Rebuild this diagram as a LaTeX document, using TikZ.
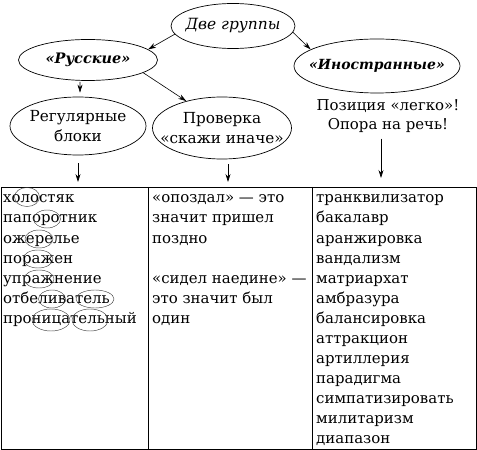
\documentclass[tikz,border=0pt]{standalone}
\usepackage{fontspec}
\setmainfont{DejaVu Serif}
\usetikzlibrary{arrows.meta,shapes.geometric}
\begin{document}
\begin{tikzpicture}[x=1bp,y=-1bp,
  txt/.style={font=\fontsize{15}{20}\selectfont},
  oval/.style={draw, ellipse, line width=0.7pt, inner sep=0pt},
  lbl/.style={font=\fontsize{15.3}{19.5}\selectfont, align=center, inner sep=0pt},
  arr/.style={-{Stealth[length=8pt,width=5pt]}, line width=0.6pt},
  cell/.style={txt, anchor=base west, inner sep=0pt},
  ring/.style={draw, ellipse, line width=0.45pt, inner sep=0pt, black!75},
  grid/.style={line width=0.9pt}
]
\useasboundingbox (0,0) rectangle (477,450);

% ellipses
\node[oval, minimum width=124bp, minimum height=45bp,
  label={[lbl, font=\fontsize{15.5}{20}\selectfont\itshape]center:Две группы}] (dg) at (233,26) {};
\node[oval, minimum width=139bp, minimum height=41bp,
  label={[lbl, font=\fontsize{14.5}{20}\selectfont\bfseries\itshape]center:«Русские»}] (rus) at (88,60) {};
\node[oval, minimum width=166bp, minimum height=54bp,
  label={[lbl, font=\fontsize{14}{20}\selectfont\bfseries\itshape]center:«Иностранные»}] (ino) at (377,66) {};
\node[oval, minimum width=136bp, minimum height=58bp,
  label={[lbl]center:Регулярные\\блоки}] (reg) at (78,126) {};
\node[oval, minimum width=139bp, minimum height=62bp,
  label={[lbl]center:Проверка\\«скажи иначе»}] (chk) at (222,128) {};
\node[lbl, font=\fontsize{15}{19}\selectfont] (pos) at (388,116) {Позиция «легко»!\\Опора на речь!};

% table
\coordinate (tl) at (1,187);
\coordinate (tr) at (476,187);
\coordinate (bl) at (1,449);
\coordinate (br) at (476,449);
\coordinate (d1) at (148,187);
\coordinate (d2) at (312,187);
\draw[grid] (tl) rectangle (br);
\draw[grid] (d1) -- (d1 |- bl);
\draw[grid] (d2) -- (d2 |- bl);

% connectors
\draw[arr] (dg.188) -- (rus.10);
\draw[arr] (dg.-6) -- (ino.166);
\draw[arr] (rus.-13) -- (chk.143);
\draw[arr, shorten <=1bp, shorten >=4bp] ([xshift=-8bp]rus.south) -- ([xshift=2bp]reg.north);
\draw[arr, shorten <=8bp, shorten >=5bp] (reg.south) -- (reg.south |- tl);
\draw[arr, shorten <=5bp, shorten >=5bp] ([xshift=6bp]chk.south) -- ([xshift=6bp]chk.south |- tl);
\draw[arr, shorten <=6bp, shorten >=9bp] ([xshift=-7bp]pos.south) -- ([xshift=-7bp]pos.south |- tl);

% column 1
\node[cell] (a1) at (3,203) {холостяк};
\node[cell] (a2) at (3,223) {папоротник};
\node[cell] (a3) at (3,243) {ожерелье};
\node[cell] (a4) at (3,263) {поражен};
\node[cell] (a5) at (3,283) {упражнение};
\node[cell] (a6) at (3,303) {отбеливатель};
\node[cell] (a7) at (3,323) {проницательный};

\node[ring, minimum width=25bp, minimum height=19bp] (r1) at (27,197) {};
\node[ring, minimum width=27bp, minimum height=18bp] (r2) at (47,219) {};
\node[ring, minimum width=28bp, minimum height=18bp] (r3) at (39,239) {};
\node[ring, minimum width=30bp, minimum height=18bp] (r4) at (38,259) {};
\node[ring, minimum width=30bp, minimum height=18bp] (r5) at (39,279) {};
\node[ring, minimum width=27bp, minimum height=18bp] (r6) at (52,299) {};
\node[ring, minimum width=38bp, minimum height=18bp] (r7) at (95,299) {};
\node[ring, minimum width=38bp, minimum height=22bp] (r8) at (51,320) {};
\node[ring, minimum width=36bp, minimum height=22bp] (r9) at (90,320) {};

% column 2
\node[cell] (b1) at (152,203) {«опоздал» — это};
\node[cell] (b2) at (152,223) {значит пришел};
\node[cell] (b3) at (152,243) {поздно};
\node[cell] (b4) at (152,283) {«сидел наедине» —};
\node[cell] (b5) at (152,303) {это значит был};
\node[cell] (b6) at (152,323) {один};

% column 3
\node[cell] (c1) at (316,203) {транквилизатор};
\node[cell] (c2) at (316,223) {бакалавр};
\node[cell] (c3) at (316,243) {аранжировка};
\node[cell] (c4) at (316,263) {вандализм};
\node[cell] (c5) at (316,283) {матриархат};
\node[cell] (c6) at (316,303) {амбразура};
\node[cell] (c7) at (316,323) {балансировка};
\node[cell] (c8) at (316,343) {аттракцион};
\node[cell] (c9) at (316,363) {артиллерия};
\node[cell] (c10) at (316,383) {парадигма};
\node[cell] (c11) at (316,403) {симпатизировать};
\node[cell] (c12) at (316,423) {милитаризм};
\node[cell] (c13) at (316,443) {диапазон};
\end{tikzpicture}
\end{document}
